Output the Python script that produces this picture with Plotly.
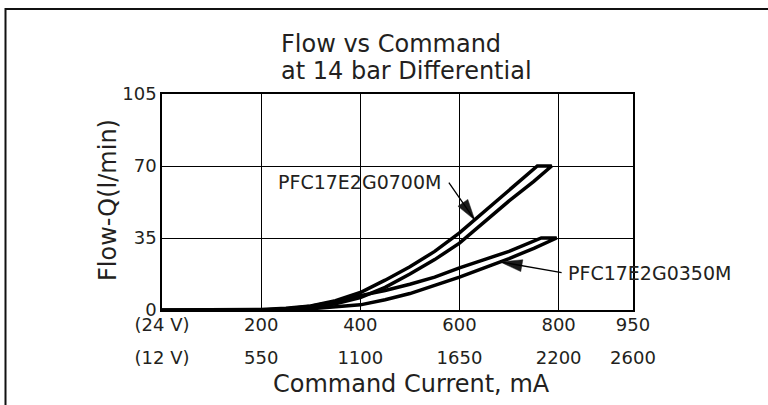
import numpy as np
import plotly.graph_objects as go

# ---------------- data ----------------
# Command current (mA, 24 V scale) and flow (l/min)
i_0700_up = [0, 100, 200, 250, 300, 350, 400, 450, 500, 550, 600, 650, 700, 757]
q_0700_up = [0, 0, 0.3, 0.8, 2.0, 4.5, 8.5, 14.5, 21.0, 28.5, 37.5, 47.5, 58.0, 70]
i_0700_dn = [0, 100, 200, 250, 300, 350, 400, 450, 500, 550, 600, 650, 700, 750, 786]
q_0700_dn = [0, 0, 0, 0.3, 1.2, 3.0, 6.0, 11.0, 17.5, 24.5, 32.5, 43.0, 53.0, 62.5, 70]

i_0350_up = [0, 100, 200, 250, 300, 350, 400, 450, 500, 550, 600, 650, 700, 765]
q_0350_up = [0, 0, 0, 0.5, 1.8, 4.0, 7.0, 9.5, 12.5, 16.0, 20.5, 24.5, 28.5, 35]
i_0350_dn = [0, 100, 200, 250, 300, 350, 400, 450, 500, 550, 600, 650, 700, 750, 796]
q_0350_dn = [0, 0, 0, 0.2, 0.6, 1.4, 2.5, 5.0, 8.0, 12.0, 16.0, 20.5, 25.0, 30.0, 35]

x_ticks = [0, 200, 400, 600, 800, 950]
x_labels_24v = ["(24 V)", "200", "400", "600", "800", "950"]
x_labels_12v = ["(12 V)", "550", "1100", "1650", "2200", "2600"]
y_ticks = [0, 35, 70, 105]

name_0700 = "PFC17E2G0700M"
name_0350 = "PFC17E2G0350M"
title_1 = "Flow vs Command"
title_2 = "at 14 bar Differential"
x_title = "Command Current, mA"
y_title = "Flow-Q(l/min)"

# ---------------- layout constants ----------------
W, H = 768, 405
ML, MR, MT, MB = 162, 135, 94, 95
PW, PH = W - ML - MR, H - MT - MB
FONT = "DejaVu Sans"
TXT = "#231f20"


def px(xp):
    return (xp - ML) / PW


def py(yp):
    return (H - MB - yp) / PH


def loop(i_dn, q_dn, i_up, q_up):
    xs = list(i_dn) + list(i_up[::-1])
    ys = list(q_dn) + list(q_up[::-1])
    return xs, ys


fig = go.Figure()
for (idn, qdn, iup, qup, nm) in [
    (i_0700_dn, q_0700_dn, i_0700_up, q_0700_up, name_0700),
    (i_0350_dn, q_0350_dn, i_0350_up, q_0350_up, name_0350),
]:
    xs, ys = loop(idn, qdn, iup, qup)
    fig.add_trace(go.Scatter(x=xs, y=ys, mode="lines", name=nm,
                             line=dict(color="black", width=3.5),
                             showlegend=False, hoverinfo="skip"))

# invisible trace for the secondary (12 V) tick axis
fig.add_trace(go.Scatter(x=x_ticks, y=[0] * len(x_ticks), xaxis="x2", mode="lines",
                         line=dict(width=0), opacity=0, showlegend=False, hoverinfo="skip"))

axis_common = dict(showline=True, linecolor="black", linewidth=1.6, mirror=True,
                   showgrid=True, gridcolor="black", gridwidth=1.2, zeroline=False,
                   ticks="")

fig.update_layout(
    width=W, height=H,
    margin=dict(l=ML, r=MR, t=MT, b=MB, autoexpand=False),
    paper_bgcolor="white", plot_bgcolor="white",
    font=dict(family=FONT, color=TXT),
    xaxis=dict(range=[0, 950], tickvals=x_ticks, ticktext=x_labels_24v,
               ticklabelstandoff=-2,
               tickfont=dict(size=18, family=FONT, color=TXT), **axis_common),
    xaxis2=dict(range=[0, 950], overlaying="x", anchor="y", side="bottom",
                tickvals=x_ticks, ticktext=x_labels_12v, showgrid=False,
                showline=False, zeroline=False, ticks="", ticklabelstandoff=35,
                tickfont=dict(size=18, family=FONT, color=TXT)),
    yaxis=dict(range=[0, 105], tickvals=y_ticks,
               tickfont=dict(size=18, family=FONT, color=TXT), **axis_common),
)

ann = []
# titles
ann.append(dict(text=title_1, x=px(279), y=py(44), xref="paper", yref="paper",
                xanchor="left", yanchor="middle", showarrow=False,
                font=dict(size=24, family=FONT, color=TXT)))
ann.append(dict(text=title_2, x=px(279), y=py(71), xref="paper", yref="paper",
                xanchor="left", yanchor="middle", showarrow=False,
                font=dict(size=24, family=FONT, color=TXT)))
ann.append(dict(text=x_title, x=px(411), y=py(384), xref="paper", yref="paper",
                xanchor="center", yanchor="middle", showarrow=False,
                font=dict(size=24, family=FONT, color=TXT)))
ann.append(dict(text=y_title, x=px(108), y=py(200), xref="paper", yref="paper",
                xanchor="center", yanchor="middle", showarrow=False, textangle=-90,
                font=dict(size=24, family=FONT, color=TXT)))
# curve labels
ann.append(dict(text=name_0700, x=px(359.5), y=py(182), xref="paper", yref="paper",
                xanchor="center", yanchor="middle", showarrow=False,
                font=dict(size=19, family=FONT, color=TXT)))
ann.append(dict(text=name_0350, x=px(565.5), y=py(273), xref="paper", yref="paper",
                xanchor="left", yanchor="middle", showarrow=False,
                font=dict(size=19, family=FONT, color=TXT)))

shapes = []
# leader arrows: tip on the curve, tail offset in pixels
arrows = [
    (631, i_0700_up, q_0700_up, -27, -39, 21, 6),
    (682, i_0350_dn, q_0350_dn, 63, 11, 22, 6),
]
for (xm, ii, qq, ax, ay, L, w) in arrows:
    ym = float(np.interp(xm, ii, qq))
    ann.append(dict(text="", x=xm, y=ym, xref="x", yref="y", ax=ax, ay=ay,
                    showarrow=True, arrowhead=0, arrowwidth=1.3, arrowcolor="black"))
    dx, dy = -ax, ay  # direction tail->tip in y-up pixel coords
    n = (dx * dx + dy * dy) ** 0.5
    ux, uy = dx / n, dy / n
    bx, by = -L * ux, -L * uy
    nx, ny = -uy, ux
    c1 = (bx + w * nx, by + w * ny)
    c2 = (bx - w * nx, by - w * ny)
    path = f"M0,0 L{c1[0]:.2f},{c1[1]:.2f} L{c2[0]:.2f},{c2[1]:.2f} Z"
    shapes.append(dict(type="path", path=path, xref="x", yref="y",
                       xsizemode="pixel", ysizemode="pixel", xanchor=xm, yanchor=ym,
                       fillcolor="#1a1a1a", line=dict(color="#1a1a1a", width=0.5)))

# outer frame (top and left edges visible)
shapes.append(dict(type="rect", xref="paper", yref="paper",
                   x0=px(5.5), x1=1.6, y0=-0.7, y1=py(9),
                   line=dict(color="#111111", width=2)))

fig.update_layout(annotations=ann, shapes=shapes)
fig.write_html("out.html", config={"displayModeBar": False},
               post_script="document.body.style.margin='0px';document.body.style.overflow='hidden';")
